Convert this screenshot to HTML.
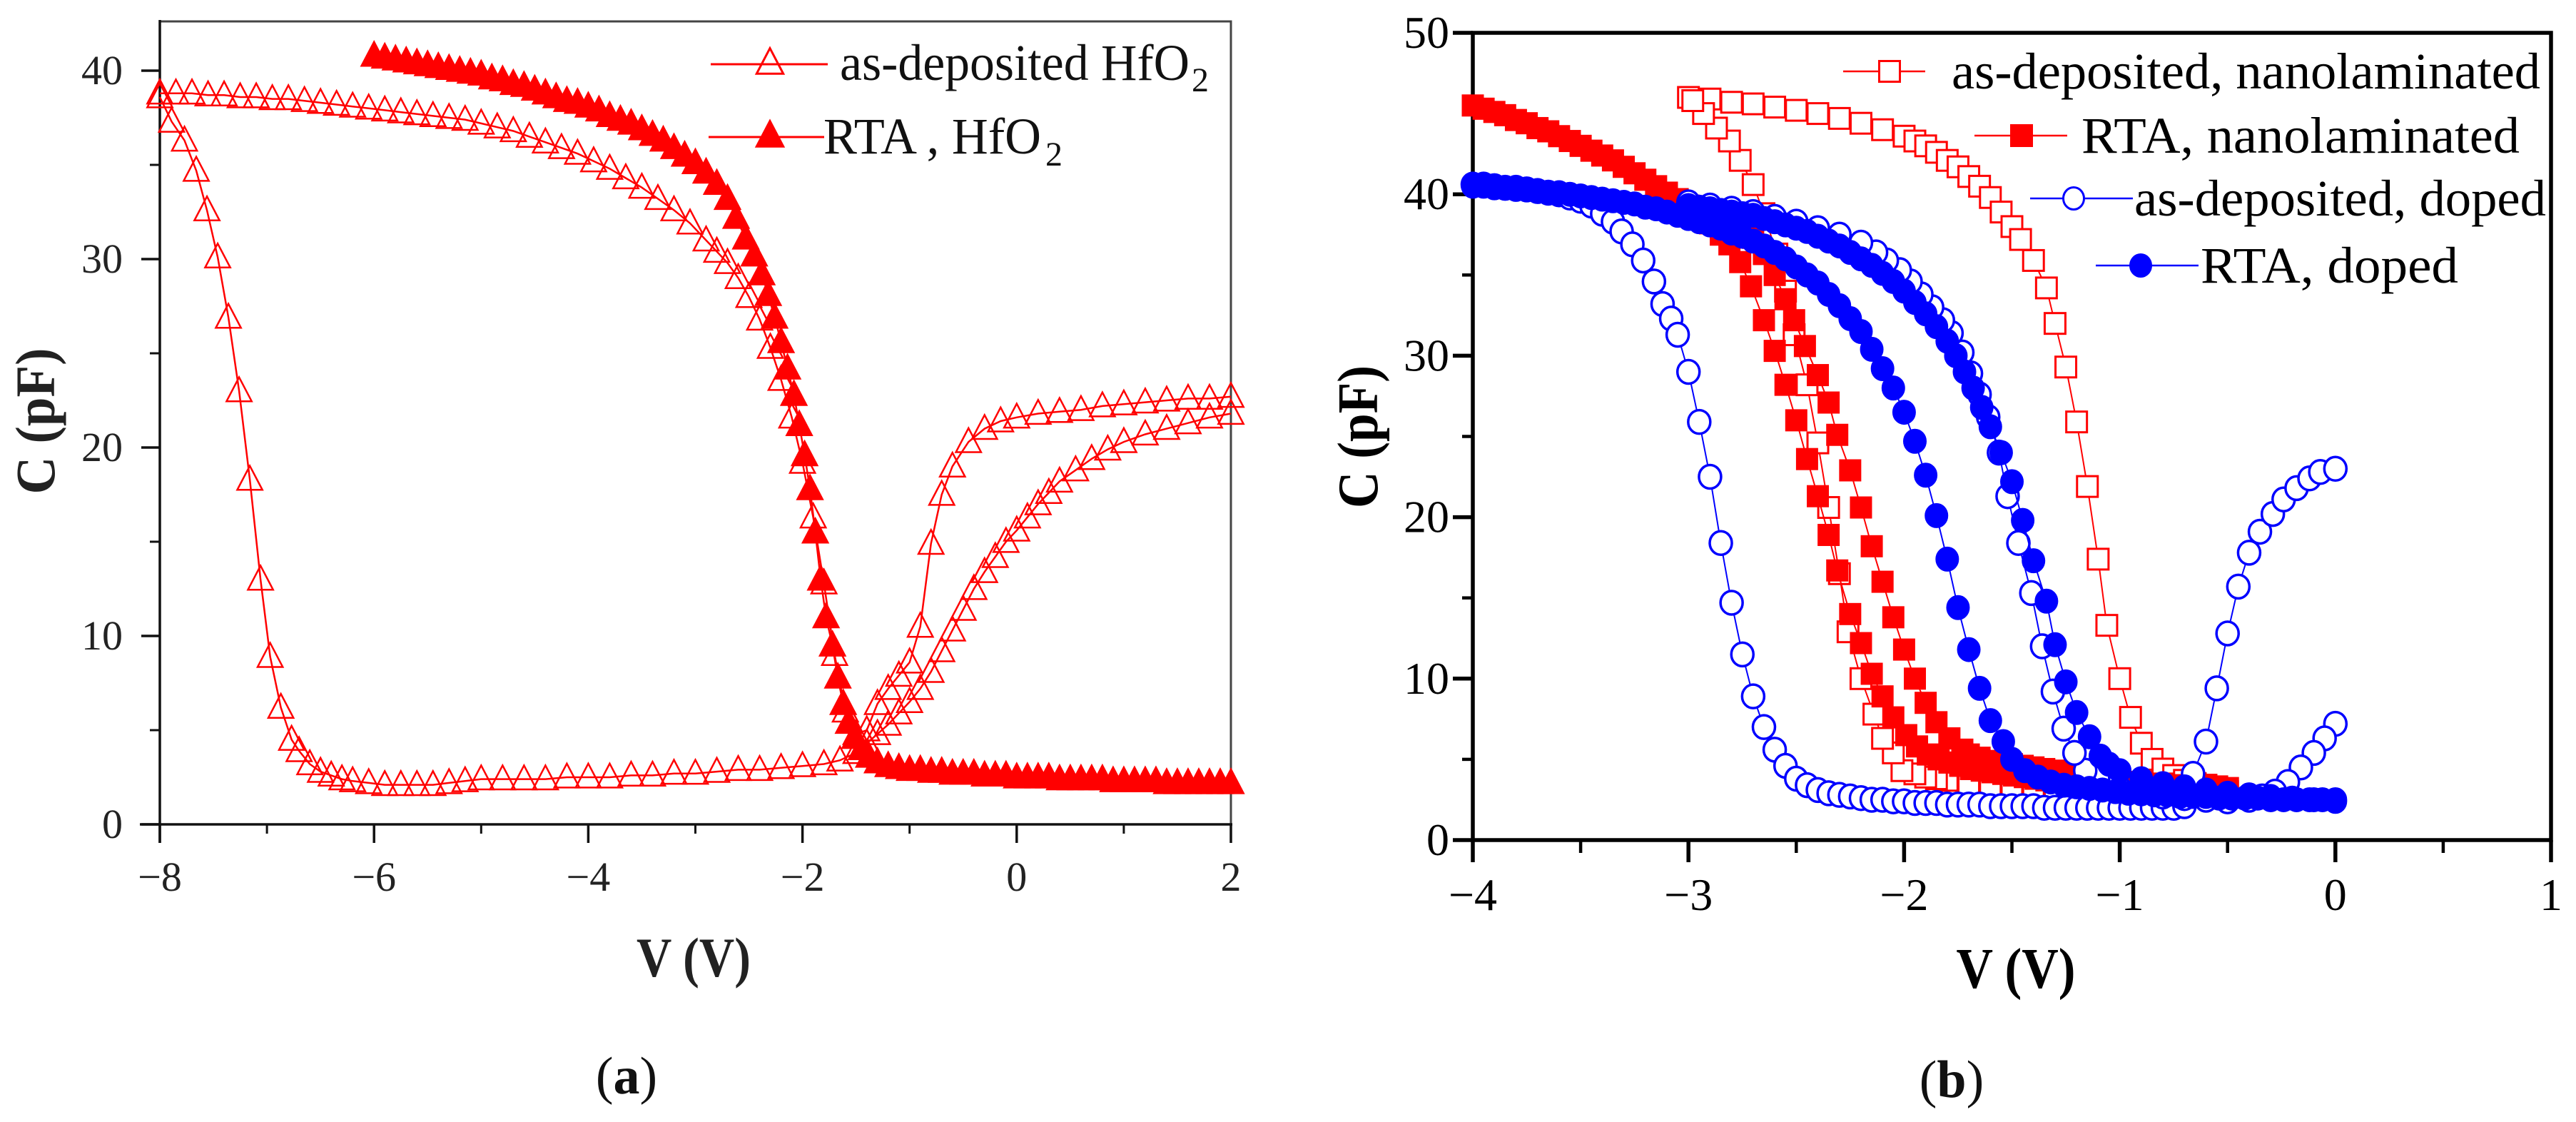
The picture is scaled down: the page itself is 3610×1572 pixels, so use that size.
<!DOCTYPE html>
<html><head><meta charset="utf-8"><style>
html,body{margin:0;padding:0;background:#fff;}
svg{display:block;font-family:"Liberation Serif","Times New Roman","DejaVu Serif",serif;}
svg text{font-family:"Liberation Serif","Times New Roman","DejaVu Serif",serif;}
</style></head><body>
<svg id="fig" width="3610" height="1572" viewBox="0 0 3610 1572" xmlns="http://www.w3.org/2000/svg">
<rect width="3610" height="1572" fill="#fff"/>
<g id="pa"></g>
<g id="pb"></g>
</svg>
<script>
// ---------- Panel (a) data ----------
const aTicksX = [-8,-6,-4,-2,0,2];
const aTickLabelsX = ["\u22128","\u22126","\u22124","\u22122","0","2"];
const aTicksY = [0,10,20,30,40];
const aTickLabelsY = ["0","10","20","30","40"];
const aAsDepFwdV = [-8,-7.85,-7.7,-7.55,-7.4,-7.25,-7.1,-6.95,-6.8,-6.65,-6.5,-6.35,-6.2,-6.05,-5.9,-5.75,-5.6,-5.45,-5.3,-5.15,-5,-4.85,-4.7,-4.55,-4.4,-4.25,-4.1,-3.95,-3.8,-3.65,-3.5,-3.35,-3.2,-3.05,-2.9,-2.8,-2.7,-2.6,-2.5,-2.4,-2.3,-2.2,-2.1,-2.0,-1.9,-1.8,-1.7,-1.6,-1.5,-1.4,-1.3,-1.2,-1.1,-1.0,-0.9,-0.8,-0.7,-0.6,-0.45,-0.3,-0.15,0,0.2,0.4,0.6,0.8,1.0,1.2,1.4,1.6,1.8,2.0];
const aAsDepFwdC = [38.8,38.8,38.8,38.7,38.7,38.6,38.6,38.5,38.5,38.4,38.3,38.2,38.1,38.0,37.9,37.8,37.7,37.6,37.5,37.4,37.2,37.0,36.8,36.5,36.2,35.9,35.6,35.2,34.8,34.3,33.8,33.2,32.6,31.9,31.0,30.4,29.8,29.0,28.0,26.8,25.3,23.6,21.6,19.2,16.3,12.8,9.0,6.0,4.8,5.0,6.4,7.2,7.9,8.6,10.5,14.9,17.5,19.0,20.3,21.0,21.4,21.6,21.8,21.9,22.0,22.2,22.3,22.4,22.5,22.6,22.6,22.7];
const aAsDepRevV = [2.0,1.8,1.6,1.4,1.2,1.0,0.85,0.7,0.55,0.4,0.3,0.2,0.1,0,-0.1,-0.2,-0.3,-0.4,-0.5,-0.6,-0.7,-0.8,-0.9,-1.0,-1.1,-1.2,-1.3,-1.4,-1.5,-1.65,-1.8,-2.0,-2.2,-2.4,-2.6,-2.8,-3.0,-3.2,-3.4,-3.6,-3.8,-4.0,-4.2,-4.4,-4.6,-4.8,-5.0,-5.15,-5.3,-5.45,-5.6,-5.75,-5.9,-6.05,-6.2,-6.3,-6.4,-6.5,-6.6,-6.7,-6.77,-6.87,-6.97,-7.06,-7.16,-7.26,-7.36,-7.46,-7.56,-7.66,-7.77,-7.89,-8.0];
const aAsDepRevC = [21.8,21.6,21.3,21.0,20.7,20.3,19.9,19.4,18.8,18.2,17.6,17.0,16.3,15.6,15.0,14.2,13.4,12.5,11.4,10.3,9.2,8.1,7.2,6.5,5.9,5.3,4.8,4.3,3.8,3.4,3.2,3.1,3.0,2.9,2.9,2.8,2.7,2.7,2.6,2.6,2.5,2.5,2.5,2.4,2.4,2.4,2.4,2.3,2.2,2.1,2.1,2.1,2.1,2.2,2.3,2.4,2.6,2.8,3.2,3.9,4.5,6.2,8.9,13.0,18.3,23.0,26.9,30.1,32.6,34.7,36.3,37.3,38.6];
const aRtaV = [-6,-5.9,-5.8,-5.7,-5.6,-5.5,-5.4,-5.3,-5.2,-5.1,-5,-4.9,-4.8,-4.7,-4.6,-4.5,-4.4,-4.3,-4.2,-4.1,-4,-3.9,-3.8,-3.7,-3.6,-3.5,-3.4,-3.3,-3.2,-3.1,-3,-2.9,-2.8,-2.7,-2.62,-2.53,-2.45,-2.38,-2.32,-2.26,-2.2,-2.14,-2.08,-2.03,-1.98,-1.93,-1.88,-1.83,-1.78,-1.72,-1.67,-1.62,-1.57,-1.51,-1.45,-1.38,-1.3,-1.2,-1.1,-1.0,-0.9,-0.8,-0.7,-0.6,-0.5,-0.4,-0.3,-0.2,-0.1,0,0.1,0.2,0.3,0.4,0.5,0.6,0.7,0.8,0.9,1.0,1.1,1.2,1.3,1.4,1.5,1.6,1.7,1.8,1.9,2.0];
const aRtaC = [40.8,40.7,40.6,40.5,40.4,40.3,40.2,40.1,40.0,39.9,39.8,39.6,39.5,39.3,39.2,39.0,38.8,38.6,38.4,38.3,38.1,37.9,37.6,37.4,37.2,36.9,36.6,36.3,35.9,35.5,35.1,34.6,34.0,33.2,32.2,31.1,30.2,29.2,28.1,26.9,25.6,24.2,22.8,21.2,19.6,17.8,15.5,13.0,11.0,9.5,7.8,6.4,5.4,4.6,4.0,3.6,3.3,3.1,3.0,2.9,2.9,2.8,2.8,2.7,2.7,2.7,2.6,2.6,2.6,2.5,2.5,2.5,2.5,2.4,2.4,2.4,2.4,2.4,2.3,2.3,2.3,2.3,2.3,2.2,2.2,2.2,2.2,2.2,2.2,2.2];

// ---------- Panel (b) data ----------
const bTicksX = [-4,-3,-2,-1,0,1];
const bTickLabelsX = ["\u22124","\u22123","\u22122","\u22121","0","1"];
const bTicksY = [0,10,20,30,40,50];
const bTickLabelsY = ["0","10","20","30","40","50"];
const bNanoAsFwdV = [-3.0,-2.9,-2.8,-2.7,-2.6,-2.5,-2.4,-2.3,-2.2,-2.1,-2.0,-1.95,-1.9,-1.85,-1.8,-1.75,-1.7,-1.65,-1.6,-1.55,-1.5,-1.46,-1.40,-1.34,-1.30,-1.25,-1.20,-1.15,-1.10,-1.06,-1.0,-0.95,-0.90,-0.85,-0.8,-0.75,-0.7,-0.65,-0.6,-0.55,-0.5];
const bNanoAsFwdC = [46.0,45.9,45.7,45.6,45.4,45.2,45.0,44.7,44.4,44.0,43.6,43.3,43.0,42.6,42.1,41.7,41.1,40.5,39.8,38.9,38.0,37.2,35.9,34.2,32.0,29.3,25.9,21.9,17.4,13.3,10.0,7.6,6.0,5.0,4.4,4.0,3.7,3.5,3.4,3.3,3.2];
const bNanoAsRevV = [-0.5,-0.6,-0.7,-0.8,-0.9,-1.0,-1.1,-1.2,-1.3,-1.4,-1.5,-1.6,-1.7,-1.8,-1.85,-1.9,-1.95,-2.01,-2.05,-2.1,-2.14,-2.2,-2.26,-2.3,-2.35,-2.4,-2.45,-2.51,-2.55,-2.59,-2.65,-2.70,-2.76,-2.81,-2.87,-2.93,-2.98];
const bNanoAsRevC = [3.0,3.0,3.0,3.0,3.0,3.0,3.0,3.1,3.1,3.2,3.3,3.4,3.5,3.7,3.8,3.9,4.1,4.3,5.4,6.3,7.8,10.0,12.9,16.5,20.6,24.6,28.2,31.3,34.0,36.3,38.8,40.6,42.1,43.3,44.1,45.0,45.8];
const bNanoRtaFwdV = [-4.0,-3.95,-3.9,-3.85,-3.8,-3.75,-3.7,-3.65,-3.6,-3.55,-3.5,-3.45,-3.4,-3.35,-3.3,-3.25,-3.2,-3.15,-3.1,-3.05,-3.0,-2.95,-2.9,-2.85,-2.81,-2.76,-2.71,-2.65,-2.6,-2.55,-2.5,-2.45,-2.4,-2.35,-2.31,-2.25,-2.2,-2.15,-2.1,-2.05,-1.99,-1.94,-1.89,-1.84,-1.79,-1.74,-1.69,-1.64,-1.59,-1.54,-1.49,-1.44,-1.39,-1.34,-1.29,-1.24,-1.19,-1.14,-1.09,-1.04,-0.99,-0.9,-0.8,-0.7,-0.6,-0.5];
const bNanoRtaFwdC = [45.5,45.3,45.1,44.9,44.6,44.4,44.1,43.9,43.6,43.3,43.0,42.7,42.4,42.1,41.7,41.3,40.9,40.5,40.1,39.7,39.3,38.8,38.2,37.5,36.9,35.8,34.3,32.2,30.3,28.2,26.0,23.6,21.3,18.9,16.7,14.0,12.2,10.3,8.9,7.6,6.5,5.8,5.3,5.0,4.8,4.6,4.4,4.3,4.2,4.1,4.0,3.9,3.8,3.7,3.6,3.6,3.5,3.5,3.4,3.4,3.3,3.3,3.2,3.2,3.1,3.1];
const bNanoRtaRevV = [-0.5,-0.6,-0.7,-0.8,-0.9,-1.0,-1.05,-1.1,-1.15,-1.2,-1.25,-1.3,-1.35,-1.4,-1.45,-1.5,-1.55,-1.6,-1.65,-1.7,-1.73,-1.79,-1.85,-1.9,-1.95,-2.0,-2.05,-2.1,-2.15,-2.2,-2.25,-2.31,-2.35,-2.4,-2.46,-2.51,-2.55,-2.6,-2.65,-2.7];
const bNanoRtaRevC = [3.2,3.3,3.4,3.5,3.6,3.7,3.8,3.9,4.0,4.1,4.2,4.3,4.4,4.5,4.6,4.7,4.8,4.9,5.1,5.3,5.6,6.3,7.3,8.5,10.0,11.8,13.8,16.0,18.2,20.6,22.9,25.1,27.1,28.8,30.6,32.2,33.5,35.0,36.3,37.3];
const bDopAsFwdV = [-4.0,-3.95,-3.9,-3.85,-3.8,-3.75,-3.7,-3.65,-3.6,-3.55,-3.5,-3.45,-3.4,-3.35,-3.31,-3.26,-3.21,-3.16,-3.12,-3.08,-3.05,-3.0,-2.95,-2.9,-2.85,-2.8,-2.75,-2.7,-2.65,-2.6,-2.55,-2.5,-2.45,-2.4,-2.35,-2.3,-2.25,-2.2,-2.15,-2.1,-2.05,-2.0,-1.95,-1.9,-1.85,-1.8,-1.75,-1.7,-1.65,-1.6,-1.55,-1.5,-1.45,-1.4,-1.35,-1.3,-1.25,-1.2,-1.15,-1.1,-1.05,-1.0,-0.95,-0.9,-0.85,-0.8,-0.75,-0.7,-0.66,-0.6,-0.55,-0.5,-0.45,-0.4,-0.35,-0.29,-0.24,-0.18,-0.12,-0.07,0];
const bDopAsFwdC = [40.6,40.6,40.5,40.4,40.4,40.3,40.2,40.1,40.0,39.8,39.6,39.3,38.8,38.3,37.7,36.9,35.9,34.6,33.2,32.3,31.3,29.0,25.9,22.5,18.4,14.7,11.5,8.9,7.0,5.6,4.6,3.8,3.4,3.1,2.9,2.8,2.7,2.6,2.5,2.5,2.4,2.4,2.3,2.3,2.3,2.2,2.2,2.2,2.2,2.1,2.1,2.1,2.1,2.1,2.0,2.0,2.0,2.0,2.0,2.0,2.0,2.0,2.0,2.0,2.0,2.0,2.0,2.1,4.1,6.1,9.4,12.8,15.7,17.8,19.1,20.2,21.1,21.8,22.4,22.8,23.0];
const bDopAsRevV = [0,-0.05,-0.1,-0.16,-0.22,-0.28,-0.34,-0.4,-0.5,-0.6,-0.7,-0.8,-0.9,-1.0,-1.05,-1.1,-1.16,-1.21,-1.26,-1.31,-1.36,-1.41,-1.47,-1.52,-1.56,-1.61,-1.65,-1.69,-1.73,-1.78,-1.82,-1.87,-1.92,-1.97,-2.02,-2.08,-2.13,-2.2,-2.3,-2.4,-2.5,-2.6,-2.7,-2.8,-2.9,-3.0];
const bDopAsRevC = [7.2,6.3,5.4,4.5,3.6,3.0,2.7,2.5,2.4,2.5,2.6,2.7,2.9,3.2,3.5,3.8,4.3,5.4,6.9,9.2,12.0,15.3,18.4,21.3,24.0,26.2,27.6,28.9,30.2,31.4,32.2,33.0,33.8,34.6,35.3,35.9,36.4,37.0,37.5,37.9,38.3,38.6,38.9,39.1,39.3,39.5];
const bDopRtaFwdV = [-4.0,-3.95,-3.9,-3.85,-3.8,-3.75,-3.7,-3.65,-3.6,-3.55,-3.5,-3.45,-3.4,-3.35,-3.3,-3.25,-3.2,-3.15,-3.1,-3.05,-3.0,-2.95,-2.9,-2.85,-2.8,-2.75,-2.7,-2.65,-2.6,-2.55,-2.5,-2.45,-2.4,-2.35,-2.3,-2.25,-2.2,-2.15,-2.1,-2.05,-2.0,-1.95,-1.9,-1.85,-1.8,-1.75,-1.7,-1.65,-1.6,-1.54,-1.5,-1.44,-1.38,-1.32,-1.26,-1.2,-1.14,-1.08,-1.02,-0.96,-0.9,-0.84,-0.78,-0.72,-0.66,-0.6,-0.54,-0.48,-0.42,-0.36,-0.3,-0.24,-0.18,-0.12,-0.06,0];
const bDopRtaFwdC = [40.5,40.5,40.4,40.4,40.3,40.3,40.2,40.1,40.1,40.0,39.9,39.8,39.7,39.6,39.5,39.4,39.2,39.1,38.9,38.7,38.5,38.3,38.1,37.9,37.6,37.4,37.1,36.8,36.4,36.0,35.5,35.0,34.5,33.8,33.1,32.3,31.5,30.4,29.2,28.0,26.5,24.7,22.6,20.1,17.4,14.4,11.8,9.4,7.4,6.1,5.0,4.3,3.9,3.6,3.4,3.3,3.2,3.1,3.0,2.9,2.9,2.8,2.8,2.7,2.7,2.7,2.6,2.6,2.6,2.6,2.5,2.5,2.5,2.5,2.5,2.5];
const bDopRtaRevV = [0,-0.1,-0.2,-0.3,-0.4,-0.5,-0.6,-0.7,-0.8,-0.9,-1.0,-1.05,-1.09,-1.14,-1.2,-1.25,-1.3,-1.34,-1.4,-1.45,-1.5,-1.55,-1.6,-1.64,-1.68,-1.72,-1.76,-1.8,-1.85,-1.9,-1.95,-2.0,-2.05,-2.1,-2.15,-2.2,-2.25,-2.3,-2.35,-2.4,-2.45,-2.5,-2.55,-2.6,-2.65,-2.7,-2.75,-2.8,-2.85,-2.9,-2.95,-3.0];
const bDopRtaRevC = [2.4,2.5,2.6,2.7,2.8,2.9,3.1,3.3,3.5,3.8,4.3,4.7,5.2,6.4,7.9,9.8,12.1,14.8,17.3,19.8,22.2,24.0,25.6,26.8,28.0,29.0,30.0,30.9,31.8,32.6,33.3,34.0,34.6,35.1,35.6,36.0,36.4,36.8,37.1,37.4,37.7,37.9,38.1,38.3,38.5,38.7,38.8,38.9,39.0,39.1,39.2,39.3];

const NS = "http://www.w3.org/2000/svg";
const SERIF = '"Liberation Serif", "Times New Roman", "DejaVu Serif", serif';
function mk(tag, attrs, parent){ const e=document.createElementNS(NS,tag); for(const k in attrs) e.setAttribute(k,attrs[k]); parent.appendChild(e); return e; }

// axis functions
const aX = v => 224 + (v + 8) * 150.1;
const aY = c => 1155 - c * 26.4;
const bX = v => 2064 + (v + 4) * 302.2;
const bY = c => 1177 - c * 22.62;

function marker(g, shape, x, y, color, filled, s, sw){
  let m;
  if(shape==='tri'){
    m = mk('polygon',{points:`${x},${y-s*0.6} ${x-s*0.55},${y+s*0.45} ${x+s*0.55},${y+s*0.45}`, fill: filled?color:'none', stroke:color,'stroke-width':sw}, g);
  } else if(shape==='sq'){
    m = mk('rect',{x:x-s/2,y:y-s/2,width:s,height:s, fill: filled?color:'#fff', stroke:color,'stroke-width':sw}, g);
  } else {
    m = mk('ellipse',{cx:x,cy:y,rx:s/2,ry:s/2+1, fill: filled?color:'#fff', stroke:color,'stroke-width':sw}, g);
  }
  
  
}
function series(parent, name, V, C, fx, fy, color, shape, filled, s, sw, lw){
  const g = mk('g',{},parent);
  
  
  const n = Math.min(V.length, C.length);
  let d='';
  for(let i=0;i<n;i++) d += (i?'L':'M') + fx(V[i]).toFixed(1) + ',' + fy(C[i]).toFixed(1);
  const p = mk('path',{d:d, fill:'none', stroke:color,'stroke-width':lw}, g);
  
  
  for(let i=0;i<n;i++) marker(g, shape, fx(V[i]), fy(C[i]), color, filled, s, sw);
}
function txt(parent, name, x, y, str, attrs){
  const t = mk('text', Object.assign({x:x,y:y}, attrs||{}), parent);
  t.style.fontFamily = SERIF;
  t.textContent = str;
  
  
  return t;
}

// ---------------- Panel A ----------------
const pa = document.getElementById('pa');
const fa = mk('path',{d:'M224,30 L1725,30 L1725,1155', fill:'none', stroke:'#444','stroke-width':3}, pa);
 
const ya = mk('line',{x1:224,y1:28,x2:224,y2:1181,stroke:'#111','stroke-width':3.5}, pa);
 
const xa = mk('line',{x1:196,y1:1155,x2:1727,y2:1155,stroke:'#111','stroke-width':3.5}, pa);
 
for(let i=0;i<aTicksX.length;i++){
  const x=aX(aTicksX[i]);
  const t=mk('line',{x1:x,y1:1155,x2:x,y2:1181,stroke:'#111','stroke-width':3.5},pa);
   
  txt(pa,'x-tick-label-a',x,1248,aTickLabelsX[i],{'font-size':58,'text-anchor':'middle',fill:'#222'});
  if(i<aTicksX.length-1){
    const xm=aX(aTicksX[i]+1);
    const m=mk('line',{x1:xm,y1:1155,x2:xm,y2:1168,stroke:'#111','stroke-width':3},pa);
     
  }
}
for(let i=0;i<aTicksY.length;i++){
  const y=aY(aTicksY[i]);
  const t=mk('line',{x1:198,y1:y,x2:224,y2:y,stroke:'#111','stroke-width':3.5},pa);
   
  txt(pa,'y-tick-label-a',172,y+19,aTickLabelsY[i],{'font-size':58,'text-anchor':'end',fill:'#222'});
  if(i<aTicksY.length-1){
    const ym=aY(aTicksY[i]+5);
    const m=mk('line',{x1:210,y1:ym,x2:224,y2:ym,stroke:'#111','stroke-width':3},pa);
     
  }
}
series(pa,'series-as-deposited-forward',aAsDepFwdV,aAsDepFwdC,aX,aY,'#ff0000','tri',false,32,2.5,2.5);
series(pa,'series-as-deposited-reverse',aAsDepRevV,aAsDepRevC,aX,aY,'#ff0000','tri',false,32,2.5,2.5);
series(pa,'series-rta-hfo2',aRtaV,aRtaC,aX,aY,'#ff0000','tri',true,32,2.5,2.5);
// legend a
const la = mk('g',{},pa);  
mk('line',{x1:996,y1:90,x2:1160,y2:90,stroke:'#ff0000','stroke-width':3},la);
marker(la,'tri',1079,88,'#ff0000',false,34,3);
txt(la,'legend-entry-as-deposited',1177,112,'as-deposited HfO',{'font-size':72,fill:'#111',textLength:490,lengthAdjust:'spacingAndGlyphs'});
txt(la,'legend-subscript',1670,128,'2',{'font-size':48,fill:'#111'});
mk('line',{x1:993,y1:192,x2:1155,y2:192,stroke:'#ff0000','stroke-width':3},la);
marker(la,'tri',1079,190,'#ff0000',true,34,3);
txt(la,'legend-entry-rta',1154,215,'RTA , HfO',{'font-size':72,fill:'#111',textLength:305,lengthAdjust:'spacingAndGlyphs'});
txt(la,'legend-subscript',1465,232,'2',{'font-size':48,fill:'#111'});
txt(pa,'x-axis-title-a',972,1368,'V (V)',{'font-size':78,'font-weight':'bold','text-anchor':'middle',fill:'#222',textLength:160,lengthAdjust:'spacingAndGlyphs'});
txt(pa,'y-axis-title-a',0,0,'C (pF)',{'font-size':78,'font-weight':'bold','text-anchor':'middle',fill:'#222',transform:'translate(76,590) rotate(-90)',textLength:205,lengthAdjust:'spacingAndGlyphs'});
const capA = txt(pa,'caption-a',878,1532,'',{'font-size':74,'text-anchor':'middle',fill:'#111'});
capA.innerHTML = '(<tspan font-weight="bold">a</tspan>)';

// ---------------- Panel B ----------------
const pb = document.getElementById('pb');
const fb = mk('rect',{x:2064,y:46,width:1511,height:1131,fill:'none',stroke:'#000','stroke-width':5.5},pb);
 
for(let i=0;i<bTicksX.length;i++){
  const x=bX(bTicksX[i]);
  const t=mk('line',{x1:x,y1:1177,x2:x,y2:1208,stroke:'#000','stroke-width':5.5},pb);
   
  txt(pb,'x-tick-label-b',x,1275,bTickLabelsX[i],{'font-size':64,'text-anchor':'middle',fill:'#000'});
  if(i<bTicksX.length-1){
    const xm=bX(bTicksX[i]+0.5);
    const m=mk('line',{x1:xm,y1:1177,x2:xm,y2:1195,stroke:'#000','stroke-width':4.5},pb);
     
  }
}
for(let i=0;i<bTicksY.length;i++){
  const y=bY(bTicksY[i]);
  const t=mk('line',{x1:2036,y1:y,x2:2064,y2:y,stroke:'#000','stroke-width':5.5},pb);
   
  txt(pb,'y-tick-label-b',2031,y+21,bTickLabelsY[i],{'font-size':64,'text-anchor':'end',fill:'#000'});
  if(i<bTicksY.length-1){
    const ym=bY(bTicksY[i]+5);
    const m=mk('line',{x1:2049,y1:ym,x2:2064,y2:ym,stroke:'#000','stroke-width':4.5},pb);
     
  }
}
series(pb,'series-as-deposited-nanolaminated-fwd',bNanoAsFwdV,bNanoAsFwdC,bX,bY,'#ff0000','sq',false,29,3,2);
series(pb,'series-as-deposited-nanolaminated-rev',bNanoAsRevV,bNanoAsRevC,bX,bY,'#ff0000','sq',false,29,3,2);
series(pb,'series-rta-nanolaminated-fwd',bNanoRtaFwdV,bNanoRtaFwdC,bX,bY,'#ff0000','sq',true,29,2,2);
series(pb,'series-rta-nanolaminated-rev',bNanoRtaRevV,bNanoRtaRevC,bX,bY,'#ff0000','sq',true,29,2,2);
series(pb,'series-as-deposited-doped-fwd',bDopAsFwdV,bDopAsFwdC,bX,bY,'#0000ff','circ',false,31,3.5,2);
series(pb,'series-as-deposited-doped-rev',bDopAsRevV,bDopAsRevC,bX,bY,'#0000ff','circ',false,31,3.5,2);
series(pb,'series-rta-doped-fwd',bDopRtaFwdV,bDopRtaFwdC,bX,bY,'#0000ff','circ',true,31,2,2);
series(pb,'series-rta-doped-rev',bDopRtaRevV,bDopRtaRevC,bX,bY,'#0000ff','circ',true,31,2,2);
// legend b
const lb = mk('g',{},pb);  
const legRows = [
 {x1:2583,x2:2698,mx:2648,y:100,tx:2735,tw:825,c:'#ff0000',s:'sq',f:false,t:'as-deposited, nanolaminated',n:'legend-entry-as-deposited-nanolaminated'},
 {x1:2767,x2:2897,mx:2833,y:190,tx:2917,tw:614,c:'#ff0000',s:'sq',f:true,t:'RTA, nanolaminated',n:'legend-entry-rta-nanolaminated'},
 {x1:2845,x2:2989,mx:2906,y:278,tx:2991,tw:577,c:'#0000ff',s:'circ',f:false,t:'as-deposited, doped',n:'legend-entry-as-deposited-doped'},
 {x1:2937,x2:3081,mx:3000,y:372,tx:3084,tw:361,c:'#0000ff',s:'circ',f:true,t:'RTA, doped',n:'legend-entry-rta-doped'}
];
for(const r of legRows){
  mk('line',{x1:r.x1,y1:r.y,x2:r.x2,y2:r.y,stroke:r.c,'stroke-width':2.5},lb);
  marker(lb,r.s,r.mx,r.y,r.c,r.f,29,3);
  txt(lb,r.n,r.tx,r.y+24,r.t,{'font-size':72,fill:'#000',textLength:r.tw,lengthAdjust:'spacingAndGlyphs'});
}
txt(pb,'x-axis-title-b',2825,1384,'V (V)',{'font-size':80,'font-weight':'bold','text-anchor':'middle',fill:'#000',textLength:167,lengthAdjust:'spacingAndGlyphs'});
txt(pb,'y-axis-title-b',0,0,'C (pF)',{'font-size':80,'font-weight':'bold','text-anchor':'middle',fill:'#000',transform:'translate(1930,612) rotate(-90)',textLength:200,lengthAdjust:'spacingAndGlyphs'});
const capB = txt(pb,'caption-b',2735,1537,'',{'font-size':74,'text-anchor':'middle',fill:'#111'});
capB.innerHTML = '(<tspan font-weight="bold">b</tspan>)';
</script>
</body></html>
